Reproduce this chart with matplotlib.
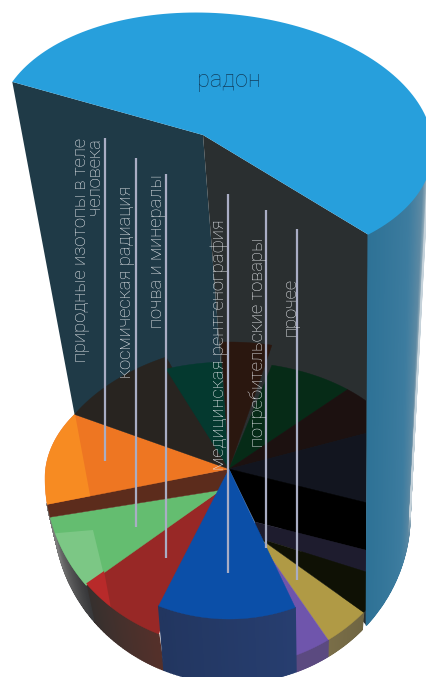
import numpy as np
import matplotlib
matplotlib.use("Agg")
import matplotlib.pyplot as plt
from matplotlib.collections import PolyCollection
from matplotlib.colors import LinearSegmentedColormap, to_rgb
from matplotlib.patches import Polygon, Rectangle

# Dose shares of the radiation sources, in percent of the full circle
slice_names = ["товары", "прочее", "рентгенография", "минералы", "космос", "разделитель",
               "изотопы", "тень 1", "тень 2", "тень 3", "тень 4", "тень 5",
               "тень 6", "тень 7", "тень 8", "тень 9"]
slice_shares = [4.0, 3.2, 12.1, 7.9, 7.1, 1.3, 11.6, 10.3, 4.9, 4.4, 7.4, 6.4, 9.2, 4.3, 2.1, 3.8]
# Raised height of each slice at the start and the end of its arc
slice_rise_start = [0, 0, 48, 20, 18, 18, 17, 17, 16, 36, 16, 16, 16, 0, 0, 0]
slice_rise_end = [0, 0, 48, 20, 18, 18, 17, 28, 16, 36, 16, 16, 0, 0, 0, 0]
radon_share = 56.6

label_texts = ["природные изотопы в теле\nчеловека", "космическая радиация", "почва и минералы",
               "медицинская рентгенография", "потребительские товары", "прочее"]

# Styling
top_colors = ["#b09a45", "#6f55ac", "#0b4fa8", "#982826", "#64bd70", "#5c2c1c",
              "#ee7622", "#282420", "#04392f", "#2a170f", "#062b17", "#1c1110",
              "#12151f", "#000000", "#1e1c2e", "#0f1105"]
side_colors = {0: ("#6f6542", "#7a6e48"), 1: ("#5b4a80", "#5b4a80"), 2: ("#273e70", "#223660"),
               3: ("#55302a", "#36302e"), 4: ("#38383a", "#7a7a7a"), 5: ("#7a7a7a", "#7a7a7a")}
START_ANGLE = 43.0
RADON_START = 201.6
BASE_TOP = dict(cx=229, cy=495, rx=184, ry_back=117, ry_front=172, skew=0)
BASE_BOTTOM = dict(cx=232, cy=515, rx=178, ry_back=168, ry_front=168, skew=0)
RADON_TOP = dict(cx=215, cy=138, rx=218, ry_back=125, ry_front=125, skew=0.05)
APEX = (229, 469)
RADON_APEX = (203, 135)
# Inner ends of the slices that do not meet at the common apex
LOW_LEFT = (221, 490)
LOW_RIGHT = (255, 535)
inner_points = {0: [LOW_RIGHT], 1: [LOW_RIGHT], 3: [LOW_LEFT], 4: [LOW_LEFT],
                5: [APEX, LOW_LEFT], 13: [(255, 522), APEX], 14: [(255, 537), (255, 522)],
                15: [LOW_RIGHT, (255, 537)]}
RIGHT_WALL_X = 366
leader_x = [105, 136, 166, 228, 266, 297]
leader_top = [138, 158, 174, 194, 210, 229]
leader_bottom = [461, 527, 558, 573, 548, 580]
label_x = [104, 135, 166, 228, 267, 300]
label_top = [138, 186, 174, 219, 238, 278]
FONT = dict(family="Roboto", weight="light")


def rim(phi, ell, h=0.0):
    """Screen position of a rim point at angle phi (degrees, clockwise on screen)."""
    a = np.radians(phi)
    c, s = np.cos(a), np.sin(a)
    ry = np.where(s < 0, ell["ry_back"], ell["ry_front"])
    return np.column_stack([ell["cx"] + ell["rx"] * c,
                            ell["cy"] + ry * s + ell["skew"] * ell["rx"] * c - h])


def lerp(c0, c1, t):
    return tuple((1 - t) * np.array(to_rgb(c0)) + t * np.array(to_rgb(c1)))


fig = plt.figure(figsize=(4.27, 6.77), dpi=100, facecolor="white")
ax = fig.add_axes([0, 0, 1, 1])
ax.set_xlim(0, 427)
ax.set_ylim(677, 0)
ax.axis("off")

edges = START_ANGLE + np.concatenate([[0], np.cumsum(slice_shares)]) * 3.6
radon_end = RADON_START + radon_share * 3.6
left_corner = rim(RADON_START, RADON_TOP)[0]
right_corner = rim(radon_end, RADON_TOP)[0]

# Cut faces of the radon column
back_point = rim(edges[7], BASE_TOP, slice_rise_start[7])[0]
ax.add_patch(Polygon([left_corner, RADON_APEX, APEX, back_point], fc="#1f3a47", ec="none", zorder=1))
ax.add_patch(Polygon([RADON_APEX, right_corner, (RIGHT_WALL_X, 625), APEX], fc="#2a2f30", ec="none", zorder=1))

# Top faces of the slices; the tall blue one goes over its neighbours
wall_clip = Rectangle((0, 0), RIGHT_WALL_X, 677, transform=ax.transData)
wedges = {}
for i, col in enumerate(top_colors):
    phis = np.linspace(edges[i], edges[i + 1], 60)
    rise = np.linspace(slice_rise_start[i], slice_rise_end[i], 60)
    arc = rim(phis, BASE_TOP, rise)
    inner = inner_points.get(i, [APEX])
    wedge = Polygon(np.vstack([inner, arc]), fc=col, ec=col, lw=0.3, zorder=3 if i != 2 else 7)
    ax.add_patch(wedge)
    if i >= 10:
        wedge.set_clip_path(wall_clip)
    wedges[i] = wedge

# Outer walls below the rim, shaded along their length
for i, (c0, c1) in side_colors.items():
    phis = np.linspace(edges[i], edges[i + 1], 40)
    top = rim(phis, BASE_TOP, slice_rise_start[i])
    bottom = rim(phis, BASE_BOTTOM)
    quads = [[top[k], top[k + 1], bottom[k + 1], bottom[k]] for k in range(len(phis) - 1)]
    cols = [lerp(c0, c1, k / (len(quads) - 1)) for k in range(len(quads))]
    z = 6 if i == 2 else 2
    ax.add_collection(PolyCollection(quads, facecolors=cols, edgecolors=cols, linewidths=1.0, zorder=z))

# Lighter band on the slices, where the column's edge catches the light
sheen_x = lambda y: 75 + 0.185 * (y - 414)
sheens = {6: ([(0, 400), (sheen_x(400), 400), (sheen_x(520), 520), (0, 520)], "#f78b22"),
          4: ([(0, 538), (93, 530), (sheen_x(590), 590), (0, 600)], "#7cc785"),
          3: ([(0, 560), (sheen_x(560), 560), (sheen_x(650), 650), (0, 650)], "#b82a2a")}
for i, (pts, col) in sheens.items():
    sheen = Polygon(pts, fc=col, ec="none", zorder=4)
    ax.add_patch(sheen)
    sheen.set_clip_path(wedges[i])

# Curved outer wall of the radon column
cyl_cmap = LinearSegmentedColormap.from_list(
    "cyl", [(0, "#2e7296"), (0.55, "#3d7c9f"), (0.85, "#5f8aa3"), (0.96, "#8fa9b8"), (1, "#c5d2da")])
n = 80
top_phi = np.linspace(radon_end, 360 + 12, n)
bottom_phi = np.linspace(41, 0, n)
cyl_top = rim(top_phi, RADON_TOP)
cyl_bottom = rim(bottom_phi, BASE_BOTTOM)
quads = [[cyl_top[k], cyl_top[k + 1], cyl_bottom[k + 1], cyl_bottom[k]] for k in range(n - 1)]
cols = [cyl_cmap(k / (n - 2)) for k in range(n - 1)]
ax.add_collection(PolyCollection(quads, facecolors=cols, edgecolors=cols, linewidths=1.0, zorder=5))

# Top face of the radon slice
radon_arc = rim(np.linspace(RADON_START, radon_end, 120), RADON_TOP)
ax.add_patch(Polygon(np.vstack([[RADON_APEX], radon_arc]), fc="#279fdc", ec="none", zorder=8))
ax.text(229, 81, "радон", color="#123f5e", fontsize=17, ha="center", va="center", zorder=10, **FONT)

# Leader lines and their rotated labels
for x, y0, y1 in zip(leader_x, leader_top, leader_bottom):
    ax.plot([x, x], [y0, y1], color="#a9adc4", lw=1.6, solid_capstyle="butt", zorder=9)
for text, x, y in zip(label_texts, label_x, label_top):
    ax.text(x, y, text, rotation=90, color="#e6e8ec", fontsize=13.2, ha="right", va="top",
            multialignment="right", linespacing=0.72, zorder=10, **FONT)

fig.savefig("out.png", dpi=100, facecolor="white")
